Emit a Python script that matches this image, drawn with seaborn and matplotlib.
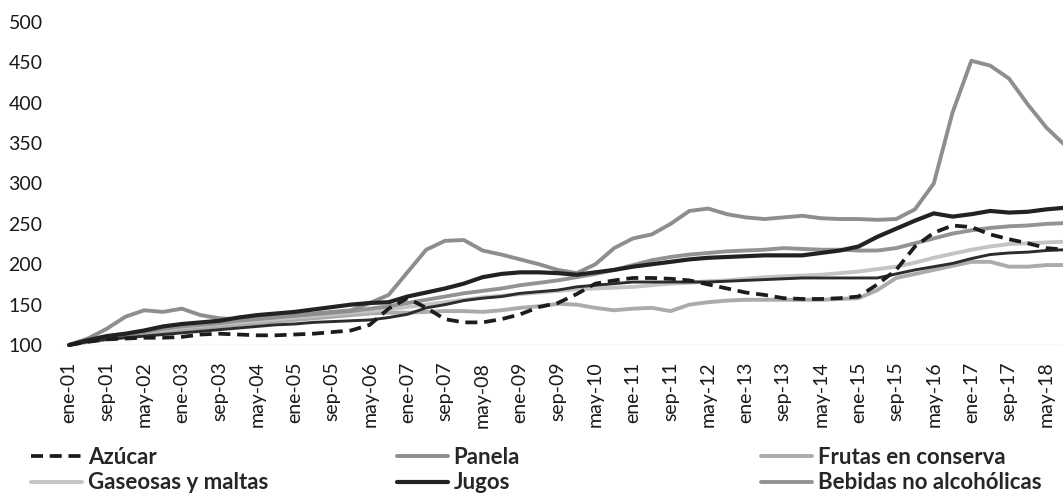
import matplotlib.pyplot as plt
import seaborn as sns
import pandas as pd
import numpy as np

# Índices de precios (base ene-01 = 100), leídos cada 4 meses: ene, may, sep
fechas = pd.date_range("2001-01-01", "2018-09-01", freq="4MS")

azucar = [100, 104, 107, 108, 109, 109, 110, 113, 114, 113, 112, 112,
          113, 114, 116, 118, 125, 145, 158, 146, 132, 128, 128, 132,
          138, 147, 152, 163, 176, 180, 183, 183, 182, 180, 175, 170,
          165, 162, 158, 157, 157, 158, 160, 175, 193, 222, 239, 248,
          246, 237, 231, 226, 220, 218]
panela = [100, 108, 120, 135, 143, 141, 145, 137, 133, 132, 133, 135,
          137, 139, 141, 143, 152, 162, 190, 218, 229, 230, 217, 212,
          206, 200, 193, 189, 200, 220, 232, 237, 250, 266, 269, 262,
          258, 256, 258, 260, 257, 256, 256, 255, 256, 268, 300, 388,
          452, 446, 430, 398, 369, 347]
frutas = [100, 104, 107, 110, 113, 116, 119, 121, 123, 125, 127, 129,
          131, 133, 135, 137, 139, 140, 140, 141, 142, 142, 141, 143,
          146, 148, 151, 150, 146, 143, 145, 146, 142, 150, 153, 155,
          156, 156, 156, 156, 156, 157, 158, 168, 183, 188, 193, 198,
          203, 203, 197, 197, 199, 199]
gaseosas = [100, 104, 108, 112, 116, 119, 122, 124, 126, 128, 130, 132,
            134, 136, 138, 140, 142, 144, 147, 150, 153, 156, 159, 161,
            163, 165, 167, 169, 170, 171, 172, 174, 176, 177, 179, 180,
            182, 184, 185, 186, 187, 189, 191, 194, 197, 202, 208, 213,
            218, 222, 225, 226, 227, 228]
jugos = [100, 106, 111, 114, 118, 123, 126, 128, 130, 134, 137, 139,
         141, 144, 147, 150, 152, 153, 160, 165, 170, 176, 184, 188,
         190, 190, 189, 187, 190, 193, 197, 200, 203, 206, 208, 209,
         210, 211, 211, 211, 214, 217, 222, 234, 244, 254, 263, 259,
         262, 266, 264, 265, 268, 270]
bebidas = [100, 105, 109, 112, 116, 120, 123, 125, 127, 130, 132, 134,
           136, 138, 140, 142, 145, 148, 152, 156, 160, 164, 167, 170,
           174, 177, 180, 184, 188, 193, 199, 205, 209, 212, 214, 216,
           217, 218, 220, 219, 218, 218, 217, 217, 220, 226, 232, 238,
           242, 245, 247, 248, 250, 251]
# serie sin rótulo visible (su leyenda queda fuera del recorte)
otra = [100, 104, 107, 109, 111, 113, 115, 117, 119, 121, 123, 125,
        126, 128, 129, 130, 131, 134, 138, 146, 150, 155, 158, 160,
        164, 166, 168, 172, 174, 176, 178, 178, 178, 178, 178, 179,
        180, 181, 182, 183, 183, 183, 183, 183, 188, 193, 197, 201,
        207, 212, 214, 215, 217, 218]

tick_labels = ["ene-01", "sep-01", "may-02", "ene-03", "sep-03", "may-04",
               "ene-05", "sep-05", "may-06", "ene-07", "sep-07", "may-08",
               "ene-09", "sep-09", "may-10", "ene-11", "sep-11", "may-12",
               "ene-13", "sep-13", "may-14", "ene-15", "sep-15", "may-16",
               "ene-17", "sep-17", "may-18"]

meses = (fechas.year - 2001) * 12 + fechas.month - 1

series = {
    "Azúcar": azucar, "Panela": panela, "Frutas en conserva": frutas,
    "Gaseosas y maltas": gaseosas, "Jugos": jugos,
    "Bebidas no alcohólicas": bebidas, "_otra": otra,
}
estilos = {
    "Azúcar": dict(color="#1c1c1c", lw=2.7, ls=(0, (3.2, 1.8))),
    "Panela": dict(color="#8e8e8e", lw=2.8, ls="-"),
    "Frutas en conserva": dict(color="#ababab", lw=2.8, ls="-"),
    "Gaseosas y maltas": dict(color="#c4c4c4", lw=2.8, ls="-"),
    "Jugos": dict(color="#222222", lw=3.0, ls="-"),
    "Bebidas no alcohólicas": dict(color="#939393", lw=2.8, ls="-"),
    "_otra": dict(color="#2c2c2c", lw=2.1, ls="-"),
}

sns.set_theme(style="white")
plt.rcParams['font.family'] = ['Lato', 'DejaVu Sans']

fig = plt.figure(figsize=(10.63, 4.93), dpi=100)
ax = fig.add_axes([62 / 1063, 148 / 493, 1 - 62 / 1063, 323 / 493])

# línea base punteada en 100
ax.axhline(100, color="#8a8a8a", lw=0.9, ls=(0, (1, 1.2)), zorder=1)

orden = ["Frutas en conserva", "Gaseosas y maltas", "Bebidas no alcohólicas",
         "_otra", "Panela", "Jugos", "Azúcar"]
for nombre in orden:
    st = estilos[nombre]
    sns.lineplot(x=meses, y=series[nombre], ax=ax, color=st["color"],
                 linewidth=st["lw"], linestyle=st["ls"], label=nombre,
                 clip_on=False, zorder=3)
if ax.get_legend() is not None:
    ax.get_legend().remove()

ax.set_xlim(-1.5, 211.5)
ax.set_ylim(100, 500)
ax.set_yticks(range(100, 501, 50))
ax.set_xticks(range(0, 209, 8))
ax.set_xticklabels(tick_labels, rotation=90)
ax.tick_params(axis="both", length=0, labelsize=14, colors="#1a1a1a")
ax.tick_params(axis="y", pad=14)
ax.tick_params(axis="x", pad=12)
for s in ax.spines.values():
    s.set_visible(False)
ax.set_xlabel("")
ax.set_ylabel("")

# leyenda en tres columnas
handles, labels = ax.get_legend_handles_labels()
h = dict(zip(labels, handles))
columnas = [("Azúcar", "Gaseosas y maltas"), ("Panela", "Jugos"),
            ("Frutas en conserva", "Bebidas no alcohólicas")]
x_cols = [31, 397, 761]
for (a, b), xc in zip(columnas, x_cols):
    fig.legend([h[a], h[b]], [a, b], loc="upper left",
               bbox_to_anchor=(xc / 1063, 1 - 447 / 493), frameon=False,
               borderpad=0, borderaxespad=0, handlelength=2.3,
               handletextpad=0.25, labelspacing=0.2,
               prop={"weight": "bold", "size": 16})

plt.savefig("out.png", dpi=100)
